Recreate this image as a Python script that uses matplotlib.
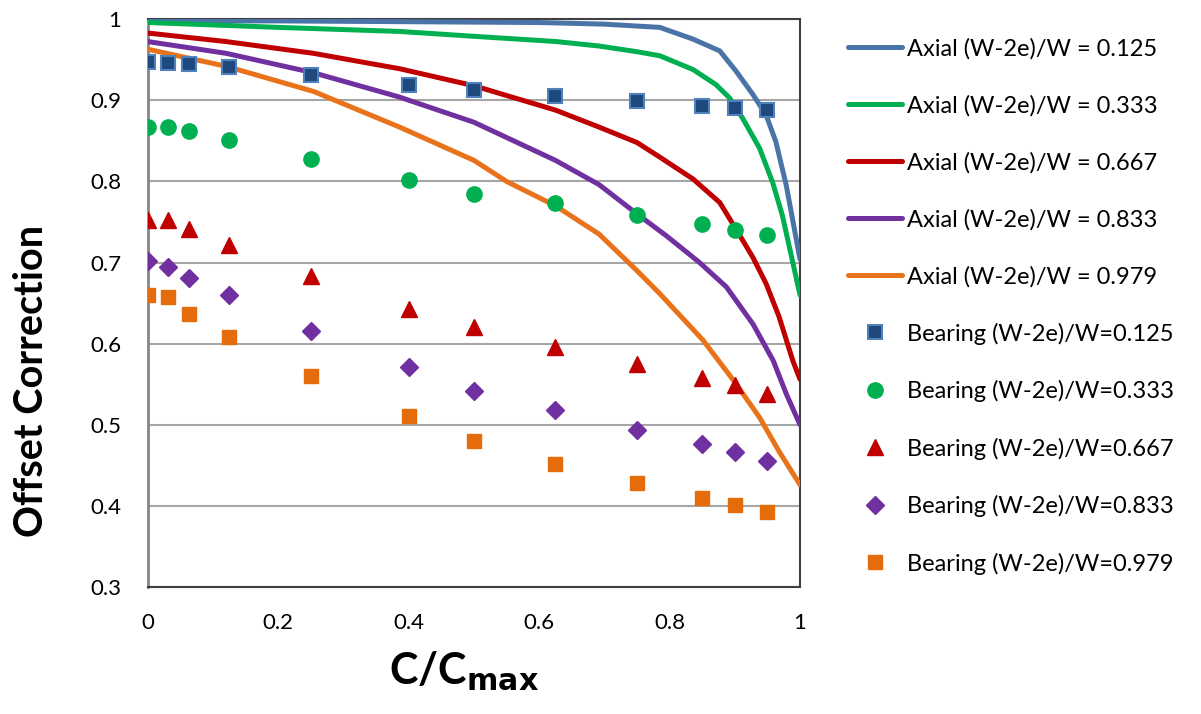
import numpy as np
import matplotlib
matplotlib.use("Agg")
import matplotlib.pyplot as plt

plt.rcParams['font.family'] = ['Lato', 'DejaVu Sans']

# axial curves
ax_x_125 = [0, 0.2, 0.4, 0.6, 0.7, 0.785, 0.836, 0.877, 0.902, 0.928, 0.948, 0.963, 0.979, 1.0]
ax_y_125 = [0.998, 0.998, 0.997, 0.996, 0.994, 0.990, 0.9755, 0.961, 0.936, 0.907, 0.882, 0.849, 0.795, 0.704]

ax_x_333 = [0, 0.2, 0.386, 0.5, 0.625, 0.692, 0.75, 0.785, 0.836, 0.871, 0.892, 0.912, 0.938, 0.958, 0.973, 0.989, 1.0]
ax_y_333 = [0.996, 0.990, 0.985, 0.979, 0.9726, 0.967, 0.96, 0.955, 0.938, 0.9195, 0.903, 0.878, 0.841, 0.799, 0.758, 0.70, 0.66]

ax_x_667 = [0, 0.12, 0.254, 0.386, 0.5, 0.625, 0.692, 0.75, 0.785, 0.836, 0.877, 0.902, 0.928, 0.948, 0.968, 0.989, 1.0]
ax_y_667 = [0.983, 0.9725, 0.958, 0.939, 0.918, 0.888, 0.867, 0.848, 0.830, 0.803, 0.774, 0.741, 0.706, 0.674, 0.633, 0.579, 0.556]

ax_x_833 = [0, 0.12, 0.254, 0.386, 0.5, 0.625, 0.692, 0.75, 0.795, 0.846, 0.887, 0.928, 0.959, 0.979, 1.0]
ax_y_833 = [0.9725, 0.958, 0.934, 0.904, 0.873, 0.826, 0.796, 0.76, 0.733, 0.70, 0.670, 0.624, 0.579, 0.538, 0.50]

ax_x_979 = [0, 0.12, 0.254, 0.386, 0.5, 0.55, 0.625, 0.692, 0.75, 0.785, 0.851, 0.897, 0.938, 0.968, 1.0]
ax_y_979 = [0.963, 0.942, 0.911, 0.867, 0.826, 0.80, 0.77, 0.735, 0.690, 0.6616, 0.6045, 0.5558, 0.509, 0.467, 0.426]

# bearing points
b_x = [0, 0.03125, 0.0625, 0.125, 0.25, 0.4, 0.5, 0.625, 0.75, 0.85, 0.9, 0.95]
b_125 = [0.947, 0.946, 0.9445, 0.941, 0.931, 0.919, 0.913, 0.906, 0.8995, 0.8935, 0.890, 0.888]
b_333 = [0.867, 0.867, 0.862, 0.851, 0.8275, 0.8015, 0.785, 0.7735, 0.759, 0.747, 0.7405, 0.7335]
b_667 = [0.753, 0.752, 0.741, 0.722, 0.683, 0.6425, 0.621, 0.596, 0.575, 0.558, 0.549, 0.5385]
b_833 = [0.7015, 0.695, 0.681, 0.66, 0.616, 0.5715, 0.542, 0.518, 0.493, 0.4765, 0.466, 0.4555]
b_979 = [0.6605, 0.6577, 0.6365, 0.608, 0.5595, 0.5105, 0.4795, 0.452, 0.4285, 0.410, 0.4015, 0.3925]

ratios = ['0.125', '0.333', '0.667', '0.833', '0.979']

fig = plt.figure(figsize=(12.01, 7.14), dpi=100)
ax = fig.add_axes([0.1232, 0.178, 0.5429, 0.795])

line_cols = ['#4A73A8', '#00B050', '#C00000', '#7030A0', '#E8731A']
axial = [(ax_x_125, ax_y_125), (ax_x_333, ax_y_333), (ax_x_667, ax_y_667),
         (ax_x_833, ax_y_833), (ax_x_979, ax_y_979)]
for (xs, ys), c, r in zip(axial, line_cols, ratios):
    ax.plot(xs, ys, color=c, lw=3.6, solid_capstyle='round', solid_joinstyle='round',
            label='Axial (W-2e)/W = ' + r, zorder=3)

# bearing markers
ax.plot(b_x, b_125, 's', ms=10, mfc='#1F497D', mec='#4F81BD', mew=1.5,
        label='Bearing (W-2e)/W=0.125', zorder=4)
ax.plot(b_x, b_333, 'o', ms=11, mfc='#00B050', mec='#00B050',
        label='Bearing (W-2e)/W=0.333', zorder=4)
ax.plot(b_x, b_667, '^', ms=11, mfc='#C00000', mec='#C00000',
        label='Bearing (W-2e)/W=0.667', zorder=4)
ax.plot(b_x, b_833, 'D', ms=9, mfc='#7030A0', mec='#7030A0',
        label='Bearing (W-2e)/W=0.833', zorder=4)
ax.plot(b_x, b_979, 's', ms=10, mfc='#E46C0A', mec='#E46C0A',
        label='Bearing (W-2e)/W=0.979', zorder=4)

ax.set_xlim(0, 1)
ax.set_ylim(0.3, 1)
ax.set_xticks([0, 0.2, 0.4, 0.6, 0.8, 1])
ax.set_xticklabels(['0', '0.2', '0.4', '0.6', '0.8', '1'])
ax.set_yticks([0.3, 0.4, 0.5, 0.6, 0.7, 0.8, 0.9, 1])
ax.set_yticklabels(['0.3', '0.4', '0.5', '0.6', '0.7', '0.8', '0.9', '1'])
ax.tick_params(axis='both', length=0, labelsize=16)
ax.tick_params(axis='x', pad=19)
ax.tick_params(axis='y', pad=19)
ax.yaxis.grid(True, color='#A6A6A6', lw=1.5)
ax.set_axisbelow(True)
for s in ['top', 'right', 'bottom']:
    ax.spines[s].set_color('#404040')
    ax.spines[s].set_linewidth(1.5)
ax.spines['left'].set_color('#868686')
ax.spines['left'].set_linewidth(2)

ax.set_xlabel('C/C$_{\\mathbf{max}}$', fontsize=31, fontweight='bold')
ax.xaxis.set_label_coords((464 - 148) / 652, -0.11)
ax.set_ylabel('Offset Correction', fontsize=28.5, fontweight='bold')
ax.yaxis.label.set_verticalalignment('center')
ax.yaxis.set_label_coords(-(148 - 32) / 652, (587 - 381) / 568)

leg = ax.legend(loc='upper left', bbox_to_anchor=(0.706, 0.947),
                bbox_transform=fig.transFigure, frameon=False, fontsize=17,
                handlelength=2.3, handletextpad=0.2, labelspacing=1.5,
                borderpad=0, borderaxespad=0)

fig.savefig('out.png', dpi=100)
